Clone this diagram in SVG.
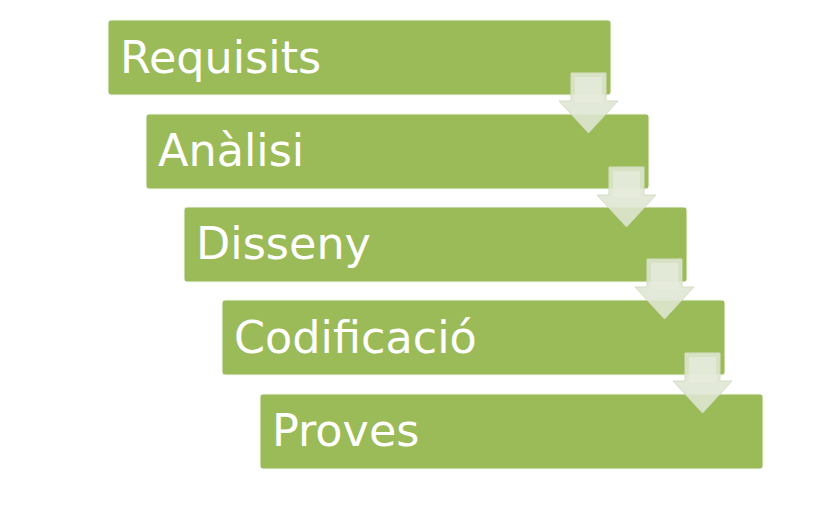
<svg xmlns="http://www.w3.org/2000/svg" width="829" height="515" viewBox="0 0 829 515">
<defs>
<style>
.box{fill:#9bbb59;stroke:#f4f7ee;stroke-width:1}
.lbl{font-family:"DejaVu Sans",sans-serif;font-size:44.5px;fill:#ffffff}
.arr{fill:#dfe6d3;fill-opacity:0.88;stroke:#d3ddc2;stroke-width:1}
.inner{fill:#e6ebdc;fill-opacity:0.8}
</style>
<g id="arrow">
<path class="arr" d="M0,0 H35 V28 H47 L17.5,60 L-12,28 H0 Z"/>
<rect class="inner" x="4" y="4" width="27" height="26"/>
</g>
</defs>
<rect width="829" height="515" fill="#ffffff"/>
<g id="n1"><rect class="box" x="108" y="20" width="503" height="75" rx="3"/><text class="lbl" x="120" y="73">Requisits</text></g>
<g id="n2"><rect class="box" x="146" y="114" width="503" height="75" rx="3"/><text class="lbl" x="158" y="166">Anàlisi</text></g>
<g id="n3"><rect class="box" x="184" y="207" width="503" height="75" rx="3"/><text class="lbl" x="196" y="259">Disseny</text></g>
<g id="n4"><rect class="box" x="222" y="300" width="503" height="75" rx="3"/><text class="lbl" x="234" y="353">Codificació</text></g>
<g id="n5"><rect class="box" x="260" y="394" width="503" height="75" rx="3"/><text class="lbl" x="272" y="446">Proves</text></g>
<g id="connectors">
<use href="#arrow" x="571" y="73"/>
<use href="#arrow" x="609" y="167"/>
<use href="#arrow" x="647" y="259"/>
<use href="#arrow" x="685" y="353"/>
</g>
</svg>
